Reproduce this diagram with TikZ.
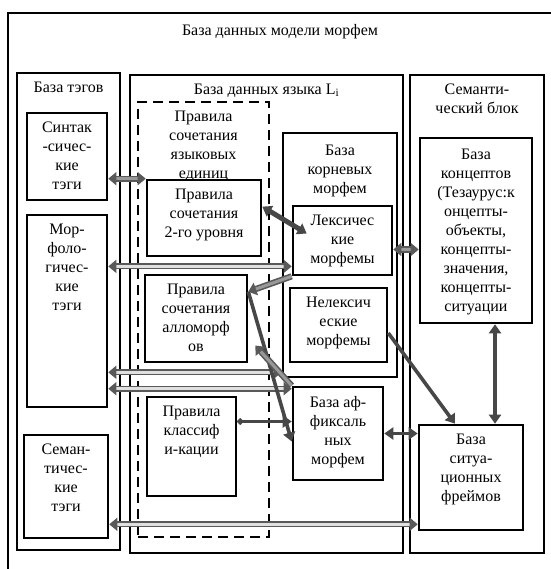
\documentclass[tikz,border=0pt]{standalone}
\usepackage{fontspec}
\setmainfont{Liberation Serif}
\usetikzlibrary{arrows.meta,fit,positioning}

\begin{document}
\begin{tikzpicture}
[x=1pt,y=-1pt,
font=\fontsize{16}{19}\selectfont,
frame/.style={draw,line width=2.6pt,inner sep=0pt,fill=white},
rules/.style={draw,line width=2.6pt,inner sep=0pt,dash pattern=on 10pt off 6pt},
caption/.style={anchor=north,align=center,inner sep=0pt,yshift=-10pt},
pale/.style={{Triangle[length=8pt,width=13pt]}-{Triangle[length=8pt,width=13pt]},
  draw=black!65,double=black!12,double distance=3pt,line width=1.6pt},
mid/.style={pale,double=black!40},
heavy/.style={-{Triangle[length=9pt,width=12pt]},draw=black!72,line width=3.6pt},
both/.style={{Triangle[length=9pt,width=12pt]}-{Triangle[length=9pt,width=12pt]}}]
\useasboundingbox (0,0) rectangle (550,569);
% outer frame
\node[frame,fill=none,fit={(8,13) (600,620)}] (model) {};
\node (modeltitle) at (280,32) {База данных модели морфем};
% three blocks
\node[frame,fit={(17,73) (120,550)},
  label={[caption]north:База тэгов}] (tags) {};
\node[frame,fit={(130,75) (403,553)},
  label={[caption]north:База данных языка L\textsubscript{i}}] (lang) {};
\node[frame,fit={(410,75) (544,553)},
  label={[caption]north:Семанти-\\ческий блок}] (sem) {};
\node[rules,fit={(138,102) (269,537)},
  label={[caption]north:Правила\\сочетания\\языковых\\единиц}] (rules) {};
% tags
\node[frame,fit={(27,113) (107,200)},
  label={[caption]north:Синтак\\-сичес-\\кие\\тэги}] (synt) {};
\node[frame,fit={(27,215) (107,407)},
  label={[caption]north:Мор-\\фоло-\\гичес-\\кие\\тэги}] (morph) {};
\node[frame,fit={(24,435) (108,538)},
  label={[caption]north:Семан-\\тичес-\\кие\\тэги}] (semtag) {};
% rules
\node[frame,fit={(147,180) (261,256)},
  label={[caption]north:Правила\\сочетания\\2-го уровня}] (second) {};
\node[frame,fit={(145,275) (247,362)},
  label={[caption]north:Правила\\сочетания\\алломорф\\ов}] (allo) {};
\node[frame,fit={(147,397) (236,496)},
  label={[caption]north:Правила\\классиф\\и-кации}] (classif) {};
% morphemes
\node[frame,fit={(283,133) (397,377)},
  label={[caption,yshift=-3pt]north:База\\корневых\\морфем}] (roots) {};
\node[frame,fit={(293,206) (392,275)},
  label={[caption]north:Лексичес\\кие\\морфемы}] (lex) {};
\node[frame,fit={(290,288) (387,362)},
  label={[caption]north:Нелексич\\еские\\морфемы}] (nonlex) {};
\node[frame,fit={(293,387) (383,480)},
  label={[caption]north:База аф-\\фиксаль\\ных\\морфем}] (affix) {};
% semantic block
\node[frame,fit={(420,138) (532,323)},
  label={[caption,yshift=-2pt]north:База\\концептов\\(Тезаурус:к\\онцепты-\\объекты,\\концепты-\\значения,\\концепты-\\ситуации}] (concepts) {};
\node[frame,fit={(419,425) (523,530)},
  label={[caption]north:База\\ситуа-\\ционных\\фреймов}] (frames) {};
% helper points
\coordinate (rootslo) at ([yshift=6pt]roots.south west);
\coordinate (affixhi) at ([yshift=-3pt]affix.north west);
\coordinate (frameslo) at ([yshift=7pt]frames.south west);
\coordinate (lexmid) at ([yshift=-9pt]lex.east);
\coordinate (alloin) at ([yshift=-18pt]allo.north east);
\coordinate (alloout) at ([shift={(7,27)}]allo.east);
\coordinate (classout) at ([yshift=25pt]classif.east);
% connectors
\draw[mid] (synt.east |- second.north) -- (second.north west);
\draw[pale] (morph.east |- lex.207) -- (lex.207);
\draw[pale] (morph.east |- rootslo) -- (rootslo);
\draw[pale] (morph.east |- affixhi) -- (affixhi);
\draw[pale] (semtag.east |- frameslo) -- (frameslo);
\draw[heavy,both,line width=5pt] (second.11) -- ([shift={(15,-7)}]lex.west);
\draw[mid] (lexmid) -- (concepts.west |- lexmid);
\draw[mid,-{Triangle[length=8pt,width=13pt]}] (lex.south west) -- (alloin);
\draw[heavy] (alloin) -- ([yshift=-8pt]affix.west);
\draw[mid,-{Triangle[length=8pt,width=13pt]}] (affix.north west) -- (alloout);
\draw[heavy,{Circle[length=6pt]}-{Triangle[length=9pt,width=12pt]}] (classout) -- (affix.west |- classout);
\draw[heavy] ([yshift=-8pt]nonlex.east) -- ([xshift=-16pt]frames.north);
\draw[heavy,both] ([xshift=19pt]concepts.south) -- ([xshift=19pt]concepts.south |- frames.north);
\draw[heavy,both,line width=3pt] (affix.east) -- (affix.east -| frames.west);
\end{tikzpicture}
\end{document}
